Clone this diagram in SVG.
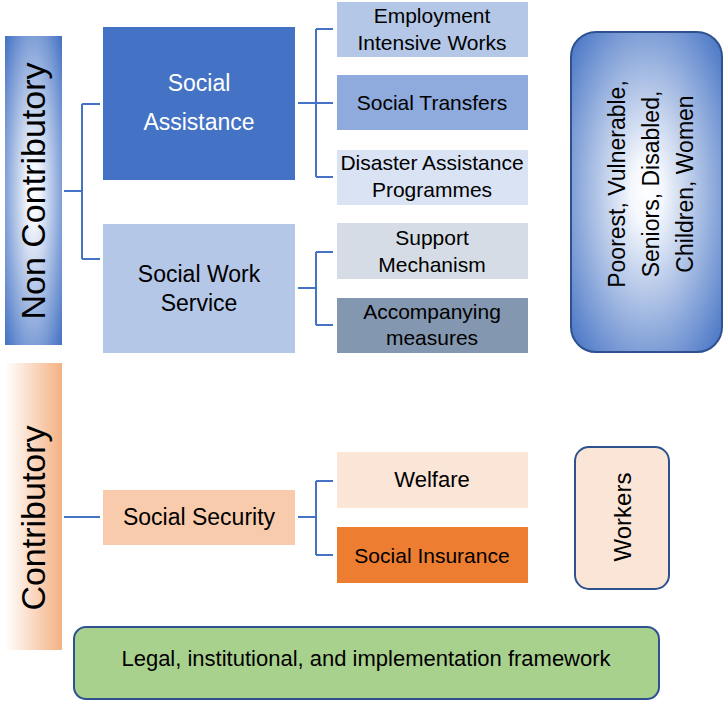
<svg xmlns="http://www.w3.org/2000/svg" width="724" height="701" viewBox="0 0 724 701">
<defs>
<radialGradient id="gBlue" cx="0.5" cy="0.5" r="0.7">
<stop offset="0" stop-color="#ffffff"/>
<stop offset="0.15" stop-color="#f4f7fc"/>
<stop offset="1" stop-color="#4472c4"/>
</radialGradient>
<linearGradient id="gPeach" x1="0" y1="0" x2="1" y2="0">
<stop offset="0" stop-color="#ffffff"/>
<stop offset="1" stop-color="#f4b183"/>
</linearGradient>
</defs>
<style>
text{font-family:"Liberation Sans",Arial,sans-serif;fill:#000;text-anchor:middle}
.c{fill:none;stroke:#4472c4;stroke-width:2}
.w{fill:#fff}
.s{font-size:21px}
</style>
<rect width="724" height="701" fill="#fff"/>

<g id="non-contributory">
<rect x="5" y="36" width="57" height="309" fill="url(#gBlue)"/>
<text transform="translate(45,191) rotate(-90)" font-size="34">Non Contributory</text>
</g>
<g id="contributory">
<rect x="5" y="363" width="57" height="287" fill="url(#gPeach)"/>
<text transform="translate(45,518) rotate(-90)" font-size="34">Contributory</text>
</g>

<g id="connectors">
<path class="c" d="M64 191H82M82 104V259M82 104H100M82 259H100"/>
<path class="c" d="M298 103H316M316 29V177M316 29H333M316 103H333M316 177H333"/>
<path class="c" d="M298 288H316M316 252V325M316 252H333M316 325H333"/>
<path class="c" d="M64 517H100"/>
<path class="c" d="M298 517H316M316 481V555M316 481H333M316 555H333"/>
</g>

<g id="social-assistance">
<rect x="103" y="27" width="192" height="153" fill="#4472c4"/>
<text x="199" y="91" font-size="23" class="w">Social</text>
<text x="199" y="130" font-size="23" class="w">Assistance</text>
</g>
<g id="social-work-service">
<rect x="103" y="224" width="192" height="129" fill="#b4c7e7"/>
<text x="199" y="282" font-size="23">Social Work</text>
<text x="199" y="311" font-size="23">Service</text>
</g>
<g id="employment">
<rect x="337" y="2" width="191" height="55" fill="#b4c7e7"/>
<text x="432" y="23" class="s">Employment</text>
<text x="432" y="50" class="s">Intensive Works</text>
</g>
<g id="social-transfers">
<rect x="337" y="75" width="191" height="55" fill="#8faadc"/>
<text x="432" y="110" class="s">Social Transfers</text>
</g>
<g id="disaster">
<rect x="337" y="150" width="191" height="55" fill="#dae3f3"/>
<text x="432" y="170" class="s">Disaster Assistance</text>
<text x="432" y="197" class="s">Programmes</text>
</g>
<g id="support">
<rect x="337" y="223" width="191" height="56" fill="#d6dce5"/>
<text x="432" y="245" class="s">Support</text>
<text x="432" y="272" class="s">Mechanism</text>
</g>
<g id="accompanying">
<rect x="337" y="298" width="191" height="55" fill="#8497b0"/>
<text x="432" y="319" class="s">Accompanying</text>
<text x="432" y="345" class="s">measures</text>
</g>
<g id="social-security">
<rect x="103" y="490" width="192" height="55" fill="#f8cbad"/>
<text x="199" y="525" font-size="23">Social Security</text>
</g>
<g id="welfare">
<rect x="337" y="452" width="191" height="56" fill="#fbe5d6"/>
<text x="432" y="487" font-size="22">Welfare</text>
</g>
<g id="social-insurance">
<rect x="337" y="527" width="191" height="56" fill="#ed7d31"/>
<text x="432" y="563" class="s">Social Insurance</text>
</g>
<g id="poorest">
<rect x="571" y="32" width="151" height="320" rx="25" fill="url(#gBlue)" stroke="#2f528f" stroke-width="2"/>
<text transform="translate(651,184) rotate(-90)" font-size="23"><tspan x="0" y="-26">Poorest, Vulnerable,</tspan><tspan x="0" y="8">Seniors, Disabled,</tspan><tspan x="0" y="42">Children, Women</tspan></text>
</g>
<g id="workers">
<rect x="575" y="447" width="94" height="142" rx="14" fill="#fbe5d6" stroke="#2f528f" stroke-width="2"/>
<text transform="translate(631,517) rotate(-90)" font-size="24">Workers</text>
</g>
<g id="framework">
<rect x="74" y="627" width="585" height="72" rx="12" fill="#a9d18e" stroke="#2f528f" stroke-width="2"/>
<text x="366" y="666" font-size="22">Legal, institutional, and implementation framework</text>
</g>
</svg>
